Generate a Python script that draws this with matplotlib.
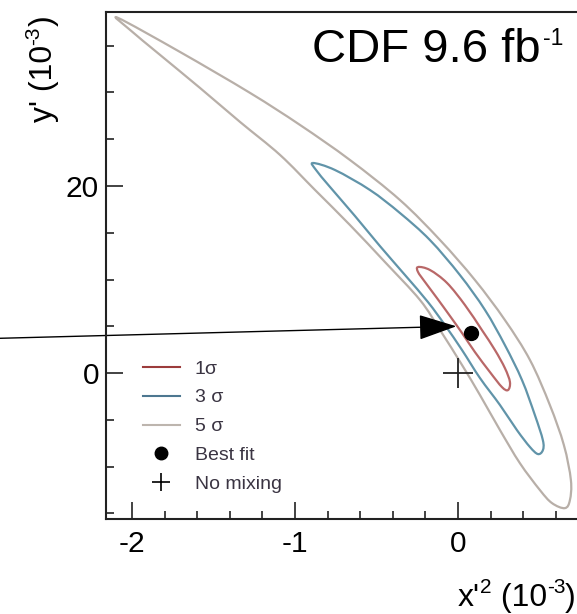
import numpy as np
import matplotlib
matplotlib.use("Agg")
import matplotlib.pyplot as plt
from matplotlib.lines import Line2D
from matplotlib.patches import FancyArrowPatch, PathPatch
from matplotlib.path import Path
from matplotlib.transforms import IdentityTransform

plt.rcParams['font.family'] = ['Liberation Sans', 'DejaVu Sans']

# Confidence-region outlines in the (x'^2, y') plane, units of 1e-3
sig5_x = [-2.086, -1.706, -1.276, -0.969, -0.663, -0.356, -0.110, 0.104, 0.288, 0.442,
          0.564, 0.650, 0.693, 0.687, 0.656,
          0.577, 0.503, 0.380, 0.258, 0.135, 0.025, -0.110, -0.233, -0.448, -0.663,
          -0.877, -1.092, -1.337, -1.583, -1.828, -2.012]
sig5_y = [37.97, 34.33, 29.95, 26.52, 22.78, 18.50, 14.22, 9.95, 5.67, 1.39,
          -3.42, -7.70, -11.44, -13.58, -14.44,
          -13.90, -12.51, -9.63, -6.10, -2.35, 0.86, 4.60, 7.81, 11.87, 15.83,
          19.57, 23.32, 26.84, 30.48, 34.01, 36.68]

sig3_x = [-0.890, -0.755, -0.540, -0.356, -0.172, 0.012, 0.166, 0.288, 0.393, 0.472,
          0.521, 0.521, 0.491,
          0.442, 0.362, 0.258, 0.135, 0.025, -0.080, -0.184, -0.325, -0.479, -0.632,
          -0.785, -0.871]
sig3_y = [22.46, 21.71, 19.57, 17.11, 14.22, 10.48, 6.74, 2.99, -0.75, -4.49,
          -7.17, -8.24, -8.66,
          -7.91, -6.10, -3.42, -0.53, 2.46, 5.13, 7.59, 10.48, 13.58, 16.79,
          19.89, 21.71]

sig1_x = [-0.245, -0.172, -0.067, 0.043, 0.147, 0.227, 0.288, 0.319, 0.307,
          0.270, 0.196, 0.104, 0.025, -0.049, -0.129, -0.202, -0.245]
sig1_y = [11.34, 11.02, 9.63, 7.27, 4.60, 2.46, 0.53, -0.96, -1.82,
          -1.50, 0.11, 2.25, 4.28, 6.10, 8.02, 9.73, 10.80]

best_fit = (0.08, 4.3)
no_mixing = (0.0, 0.0)

# pointer arrow towards the best-fit point
arrow_start = (-2.85, 3.7)
arrow_end = (-0.01, 5.0)

legend_labels = ["1\u03c3", "3 \u03c3", "5 \u03c3", "Best fit", "No mixing"]
x_major = [-2, -1, 0]
x_major_labels = ["-2", "-1", "0"]
y_major = [0, 20]
y_major_labels = ["0", "20"]

c1, c3, c5 = "#b96868", "#6194a9", "#b8afa8"

fig = plt.figure(figsize=(5.77, 6.14), dpi=100)
H = 614
ax = fig.add_axes([106 / 577, 1 - 519 / H, (588 - 106) / 577, (519 - 12) / H])
ax.set_xlim(-2.16, 0.798)
ax.set_ylim(-15.6, 38.6)


def smooth_closed_path(xs, ys):
    """Closed cubic Bezier path passing through the given outline vertices."""
    p = np.column_stack([xs, ys]).astype(float)
    n = len(p)
    verts = [p[0]]
    codes = [Path.MOVETO]
    for i in range(n):
        p0, p1, p2, p3 = p[i - 1], p[i], p[(i + 1) % n], p[(i + 2) % n]
        verts += [p1 + (p2 - p0) / 6.0, p2 - (p3 - p1) / 6.0, p2]
        codes += [Path.CURVE4] * 3
    return Path(verts, codes)


for xs, ys, c in [(sig5_x, sig5_y, c5), (sig3_x, sig3_y, c3), (sig1_x, sig1_y, c1)]:
    ax.add_patch(PathPatch(smooth_closed_path(xs, ys), facecolor='none', edgecolor=c,
                           lw=1.6, joinstyle='round'))

ax.plot(*no_mixing, marker='+', ms=22, mew=1.3, color='#222222', ls='none')
ax.plot(*best_fit, marker='o', ms=10, color='k', ls='none')

arr = FancyArrowPatch(arrow_start, arrow_end, arrowstyle='-|>,head_length=24,head_width=8',
                      mutation_scale=1, color='k', lw=1.0, shrinkA=0, shrinkB=0,
                      transform=ax.transData, clip_on=False)
ax.add_patch(arr)

ax.set_xticks(x_major)
ax.set_xticklabels(x_major_labels)
ax.set_yticks(y_major)
ax.set_yticklabels(y_major_labels)
ax.set_xticks(np.arange(-2.0, 0.8, 0.2), minor=True)
ax.set_yticks(np.arange(-15, 40, 5), minor=True)
ax.tick_params(which='both', direction='in', top=False, right=False, width=1.2, color='#222222')
ax.tick_params(axis='x', which='major', length=12, labelsize=21.5, pad=8)
ax.tick_params(axis='y', which='major', length=12, labelsize=21.5, pad=5)
ax.tick_params(which='minor', length=6)
for side in ['left', 'bottom', 'top']:
    ax.spines[side].set_linewidth(1.5)
    ax.spines[side].set_color('#222222')
ax.spines['right'].set_visible(False)

handles = [Line2D([], [], color="#9c3c3c", lw=1.5),
           Line2D([], [], color="#4d7790", lw=1.5),
           Line2D([], [], color="#bdb5ae", lw=1.5),
           Line2D([], [], marker='o', ms=9, color='k', ls='none'),
           Line2D([], [], marker='+', ms=13, mew=1.2, color='k', ls='none')]
ax.legend(handles, legend_labels, loc='upper left', bbox_to_anchor=(143 / 577, 1 - 360 / H),
          bbox_transform=fig.transFigure, frameon=False, borderpad=0, borderaxespad=0,
          handlelength=1.9, handletextpad=0.75, labelspacing=0.58, fontsize=14,
          labelcolor='#3a3442')

renderer = fig.canvas.get_renderer()


def run_text(x, y, parts, vertical=False):
    """Lay out text pieces (string, size, rise in px, gap in px) one after another."""
    for s, size, rise, gap in parts:
        if vertical:
            y -= gap
            t = fig.text(x - rise, H - y, s, fontsize=size, rotation=90,
                         rotation_mode='anchor', ha='left', va='baseline',
                         transform=IdentityTransform())
            y -= t.get_window_extent(renderer).height
        else:
            x += gap
            t = fig.text(x, H - y + rise, s, fontsize=size, ha='left', va='baseline',
                         transform=IdentityTransform())
            x += t.get_window_extent(renderer).width


run_text(312, 62, [("CDF 9.6 fb", 34, 0, 0), ("-1", 16.5, 17, 2)])
run_text(52, 122, [("y' (10", 23, 0, 0), ("-3", 15, 13, 0), (")", 23, 0, 0)], vertical=True)
run_text(458, 606, [("x'", 23, 0, 0), ("2", 15, 13, 0), (" (10", 23, 0, 0), ("-3", 15, 13, 0),
                    (")", 23, 0, 0)])

fig.savefig("out.png", dpi=100)
